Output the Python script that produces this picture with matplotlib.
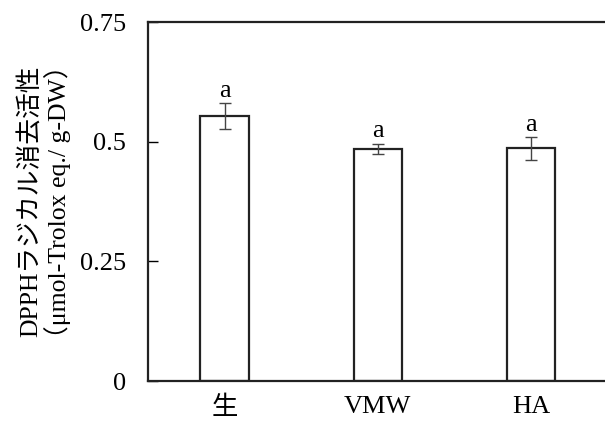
import matplotlib
matplotlib.use("Agg")
import matplotlib.pyplot as plt
import numpy as np

# data
categories = ["生", "VMW", "HA"]
means = [0.553, 0.485, 0.486]
errors = [0.027, 0.011, 0.024]
letters = ["a", "a", "a"]

plt.rcParams['font.family'] = ['Liberation Serif', 'Noto Sans CJK JP']

fig = plt.figure(figsize=(6.05, 4.25), dpi=100)
ax = fig.add_axes([0.2446, 0.1035, 0.760, 0.8447])

x = np.arange(len(categories))
ax.bar(x, means, width=0.315, color="white", edgecolor="#222222", linewidth=1.6, zorder=2)
ax.errorbar(x, means, yerr=errors, fmt="none", ecolor="#444444",
            elinewidth=1.0, capsize=4, capthick=1.0, zorder=3)

for xi, m, e, t in zip(x, means, errors, letters):
    ax.text(xi, m + e + 0.013, t, ha="center", va="baseline", fontsize=19)

ax.set_xlim(-0.5, 2.5)
ax.set_ylim(0, 0.75)
ax.set_yticks([0, 0.25, 0.5, 0.75])
ax.set_yticklabels(["0", "0.25", "0.5", "0.75"])
ax.set_xticks(x)
ax.set_xticklabels(categories)

ax.tick_params(axis="y", direction="in", length=7, width=1.0, pad=16, labelsize=19)
ax.tick_params(axis="x", length=0, pad=11, labelsize=19)

for s in ["left", "bottom", "top"]:
    ax.spines[s].set_linewidth(1.6)
    ax.spines[s].set_color("#222222")
ax.spines["right"].set_visible(False)

ax.set_ylabel("DPPHラジカル消去活性\n（μmol-Trolox eq./ g-DW）", fontsize=18.5,
              linespacing=1.05, labelpad=6)

fig.savefig("out.png", dpi=100)
